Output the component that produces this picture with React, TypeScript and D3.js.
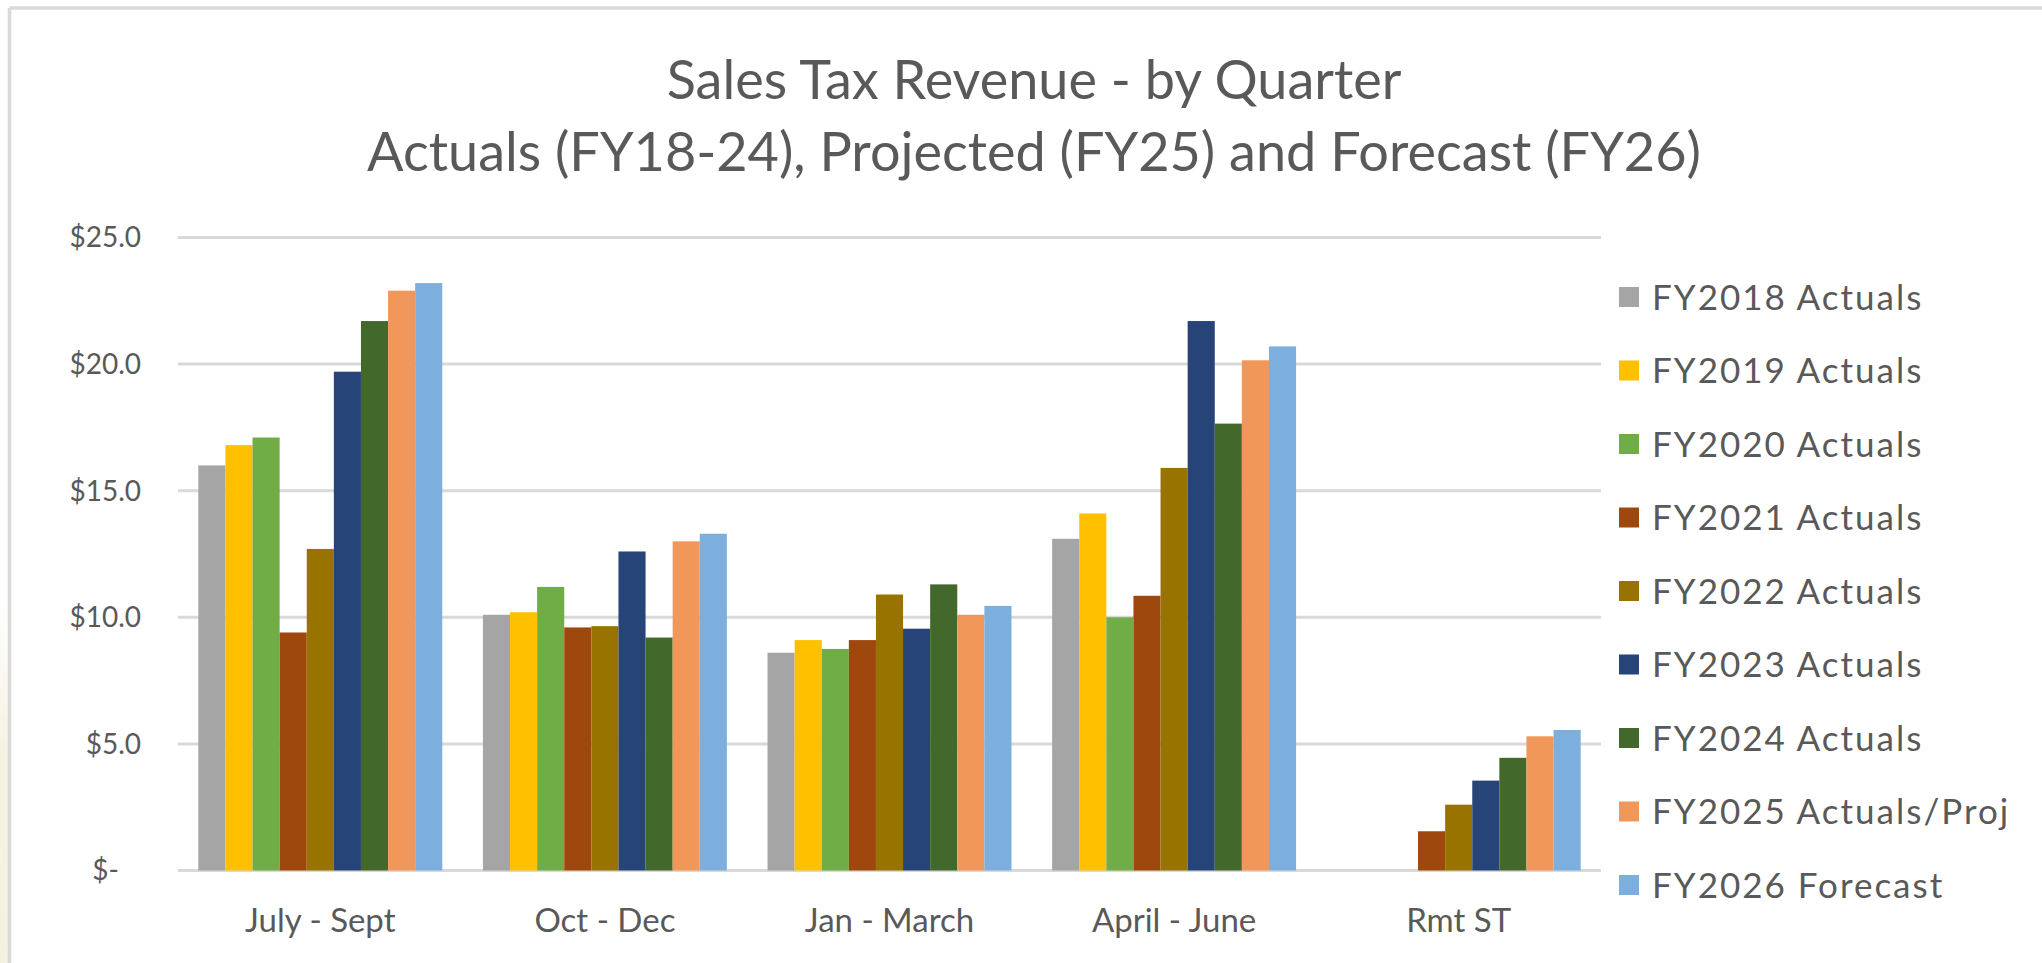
import React from "react";
import * as d3 from "d3";

const categories = ["July - Sept", "Oct - Dec", "Jan - March", "April - June", "Rmt ST"];
const seriesNames = [
  "FY2018 Actuals",
  "FY2019 Actuals",
  "FY2020 Actuals",
  "FY2021 Actuals",
  "FY2022 Actuals",
  "FY2023 Actuals",
  "FY2024 Actuals",
  "FY2025 Actuals/Proj",
  "FY2026 Forecast",
];
const seriesColors = ["#A5A5A5", "#FFC000", "#70AD47", "#9E480E", "#997300", "#264478", "#43682B", "#F1975A", "#7CAFDD"];

// values per series, in category order
const fy2018 = [16.0, 10.1, 8.6, 13.1, null];
const fy2019 = [16.8, 10.2, 9.1, 14.1, null];
const fy2020 = [17.1, 11.2, 8.75, 10.0, null];
const fy2021 = [9.4, 9.6, 9.1, 10.85, 1.55];
const fy2022 = [12.7, 9.65, 10.9, 15.9, 2.6];
const fy2023 = [19.7, 12.6, 9.55, 21.7, 3.55];
const fy2024 = [21.7, 9.2, 11.3, 17.65, 4.45];
const fy2025 = [22.9, 13.0, 10.1, 20.15, 5.3];
const fy2026 = [23.2, 13.3, 10.45, 20.7, 5.55];
const seriesValues = [fy2018, fy2019, fy2020, fy2021, fy2022, fy2023, fy2024, fy2025, fy2026];

const yTicks = [0, 5, 10, 15, 20, 25];
const titleLine1 = "Sales Tax Revenue - by Quarter";
const titleLine2 = "Actuals (FY18-24), Projected (FY25) and Forecast (FY26)";

const W = 2042;
const H = 963;
const FONT = "Lato, 'Open Sans', sans-serif";
const TEXT = "#595959";
const GRID = "#d9d9d9";

export default function App() {
  const plotLeft = 178;
  const plotRight = 1601;
  const y = d3.scaleLinear().domain([0, 25]).range([870.5, 237.5]);
  const x0 = d3
    .scaleBand<string>()
    .domain(categories)
    .range([plotLeft, plotRight])
    .paddingInner(1.5 / 10.5)
    .paddingOuter(0.75 / 10.5);
  const x1 = d3
    .scaleBand<string>()
    .domain(seriesNames)
    .range([0, x0.bandwidth()])
    .padding(0);

  const legendY = d3
    .scalePoint<string>()
    .domain(seriesNames)
    .range([297, 885]);

  const fmt = (v: number) => (v === 0 ? "$-" : "$" + d3.format(".1f")(v));

  return (
    <svg
      width={W}
      height={H}
      style={{ position: "absolute", left: 0, top: 0, background: "#fff" }}
      xmlns="http://www.w3.org/2000/svg"
    >
      <defs>
        <linearGradient id="beige" x1="0" y1="0" x2="0" y2="1">
          <stop offset="0" stopColor="#ffffff" />
          <stop offset="0.62" stopColor="#ffffff" />
          <stop offset="0.78" stopColor="#f6f2e2" />
          <stop offset="1" stopColor="#f5f1e0" />
        </linearGradient>
      </defs>
      <rect x={0} y={0} width={W} height={H} fill="#fff" />
      <rect x={0} y={0} width={9} height={H} fill="url(#beige)" />
      {/* frame */}
      <line x1={9.5} x2={W} y1={8} y2={8} stroke={GRID} strokeWidth={3.5} />
      <line x1={9.5} x2={9.5} y1={8} y2={H} stroke={GRID} strokeWidth={3.5} />

      {/* title */}
      <text x={1034} y={99} textAnchor="middle" fontFamily={FONT} fontSize={54} fill={TEXT}>
        {titleLine1}
      </text>
      <text x={1034} y={171} textAnchor="middle" fontFamily={FONT} fontSize={54} fill={TEXT}>
        {titleLine2}
      </text>

      {/* gridlines */}
      {yTicks.map((t) => (
        <line key={t} x1={plotLeft} x2={plotRight} y1={y(t)} y2={y(t)} stroke={GRID} strokeWidth={3} />
      ))}

      {/* y tick labels */}
      {yTicks.map((t) => (
        <text
          key={"l" + t}
          x={t === 0 ? 119 : 141}
          y={y(t)}
          dy="0.35em"
          textAnchor="end"
          fontFamily={FONT}
          fontSize={28}
          fill={TEXT}
        >
          {fmt(t)}
        </text>
      ))}

      {/* bars */}
      {categories.map((c, ci) => (
        <g key={c} transform={`translate(${x0(c)},0)`}>
          {seriesNames.map((s, si) => {
            const v = seriesValues[si][ci];
            if (v == null) return null;
            return (
              <rect
                key={s}
                x={x1(s)}
                y={y(v)}
                width={x1.bandwidth()}
                height={y(0) - y(v)}
                fill={seriesColors[si]}
              />
            );
          })}
        </g>
      ))}

      {/* x labels */}
      {categories.map((c) => (
        <text
          key={"x" + c}
          x={(x0(c) as number) + x0.bandwidth() / 2}
          y={932}
          textAnchor="middle"
          fontFamily={FONT}
          fontSize={33}
          fill={TEXT}
        >
          {c}
        </text>
      ))}

      {/* legend */}
      {seriesNames.map((s, si) => (
        <g key={"lg" + s} transform={`translate(1619,${legendY(s)})`}>
          <rect x={0} y={-10} width={20} height={20} fill={seriesColors[si]} />
          <text x={33} y={0} dy="0.36em" fontFamily={FONT} fontSize={35} letterSpacing={2} fill={TEXT}>
            {s}
          </text>
        </g>
      ))}
    </svg>
  );
}
